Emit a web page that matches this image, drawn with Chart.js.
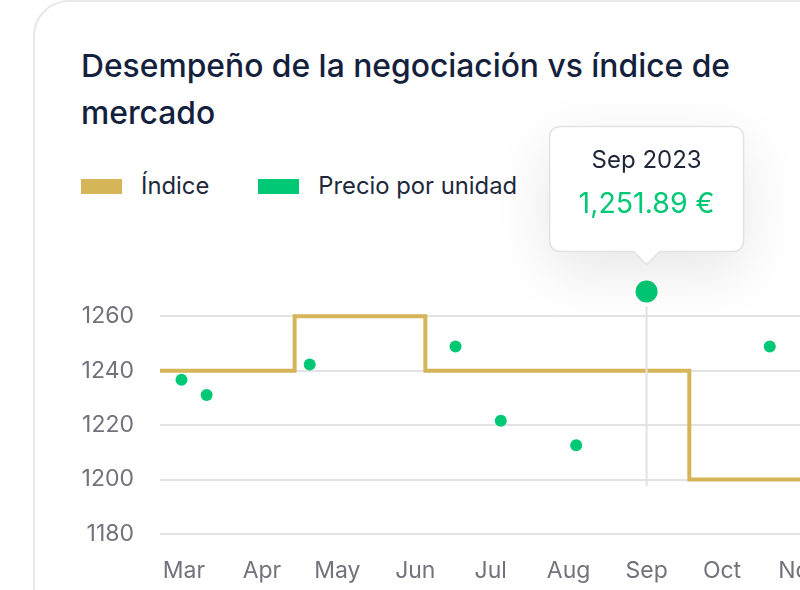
<!DOCTYPE html>
<html>
<head>
<meta charset="utf-8">
<script src="https://cdn.jsdelivr.net/npm/chart.js@4.4.1/dist/chart.umd.min.js"></script>
<style>
    html, body {
        margin: 0;
        width: 800px;
        height: 590px;
        overflow: hidden;
        background: #fff;
        font-family: Inter, "Noto Sans", sans-serif;
    }
    .card {
        position: absolute;
        left: 33px;
        top: 0;
        width: 1000px;
        height: 800px;
        border: 2px solid #e8e8eb;
        border-radius: 36px;
        box-sizing: border-box;
    }
    .chart-title {
        position: absolute;
        left: 81px;
        top: 42px;
        max-width: 700px;
        margin: 0;
        font-size: 31.8px;
        font-weight: 500;
        line-height: 47px;
        color: #14213d;
    }
    .chart-legend {
        position: absolute;
        left: 81px;
        top: 171px;
        display: flex;
        gap: 49px;
        font-size: 23.8px;
        line-height: 30px;
        color: #1e293b;
    }
    .chart-legend span {
        display: flex;
        align-items: center;
    }
    .chart-legend i {
        display: inline-block;
        width: 41px;
        height: 15px;
        margin-right: 19px;
    }
    .chart-box {
        position: absolute;
        left: 60px;
        top: 60px;
        width: 900px;
        height: 530px;
    }
</style>
</head>
<body>
<div class="card"></div>
<h2 class="chart-title">Desempeño de la negociación vs índice de mercado</h2>
<div class="chart-legend" id="legend"></div>
<div class="chart-box"><canvas id="stepChart"></canvas></div>

<script>
// Data
const monthLabels = ['Mar', 'Apr', 'May', 'Jun', 'Jul', 'Aug', 'Sep', 'Oct', 'Nov', 'Dec'];
const monthStarts = ['2023-03-01', '2023-04-01', '2023-05-01', '2023-06-01', '2023-07-01', '2023-08-01', '2023-09-01', '2023-10-01', '2023-11-01', '2023-12-01'];

const indexDates = ['2023-02-01', '2023-04-14', '2023-06-05', '2023-09-18', '2023-12-31'];
const indexValues = [1240, 1260, 1240, 1200, 1200];

const priceDates = ['2023-02-28', '2023-03-10', '2023-04-20', '2023-06-17', '2023-07-05', '2023-08-04', '2023-09-01', '2023-10-20'];
const priceValues = [1236.7, 1231.1, 1242.3, 1248.9, 1221.6, 1212.6, 1269.1, 1248.9];

const yTicks = [1180, 1200, 1220, 1240, 1260];
const yMin = 1180, yMax = 1272;
const xStart = '2023-02-20'; // left edge of the plot

// highlighted point + tooltip
const selectedIndex = 6;
const selectedPrice = 1251.89;

const gold = '#d5b558';
const green = '#00c875';

// days since 1 Mar 2023
const day0 = Date.parse('2023-03-01');
const toDay = d => (Date.parse(d) - day0) / 86400000;

const indexPoints = indexDates.map((d, i) => ({ x: toDay(d), y: indexValues[i] }));
const pricePoints = priceDates.map((d, i) => ({ x: toDay(d), y: priceValues[i] }));
const tickDays = monthStarts.map(toDay);

const xMin = toDay(xStart) - 0.55;
const xMax = xMin + 800 / 2.514;

// vertical guide under the hovered point + soft shadow behind the tooltip
const guideLine = {
    id: 'guideLine',
    afterDatasetsDraw(chart) {
        const active = chart.getActiveElements();
        if (!active.length) return;
        const pt = active[0].element;
        const ctx = chart.ctx;
        ctx.save();
        ctx.strokeStyle = '#e2e2e4';
        ctx.lineWidth = 2;
        ctx.beginPath();
        ctx.moveTo(pt.x, pt.y + 15);
        ctx.lineTo(pt.x, chart.scales.y.getPixelForValue(1197.8));
        ctx.stroke();
        ctx.restore();
    },
    beforeTooltipDraw(chart, args) {
        const tt = args.tooltip;
        const ctx = chart.ctx;
        ctx.save();
        ctx.shadowColor = 'rgba(0,0,0,0.1)';
        ctx.shadowBlur = 60;
        ctx.shadowOffsetY = 18;
        ctx.fillStyle = '#fff';
        ctx.beginPath();
        ctx.roundRect(tt.x, tt.y, tt.width, tt.height, 12);
        ctx.fill();
        ctx.restore();
    }
};

const ctx = document.getElementById('stepChart');

let chart = new Chart(ctx, {
    type: 'line',
    data: {
        datasets: [{
            label: 'Índice',
            data: indexPoints,
            stepped: true,
            borderColor: gold,
            backgroundColor: gold,
            borderWidth: 4,
            pointRadius: 0,
            pointHoverRadius: 0,
            fill: false
        }, {
            label: 'Precio por unidad',
            data: pricePoints,
            showLine: false,
            clip: false,
            borderColor: green,
            backgroundColor: green,
            pointRadius: 6,
            pointBorderWidth: 0,
            pointHoverRadius: 11,
            pointHoverBorderWidth: 0,
            pointHoverBackgroundColor: green
        }]
    },
    plugins: [guideLine],
    options: {
        responsive: true,
        maintainAspectRatio: false,
        animation: false,
        events: [],
        layout: {
            autoPadding: false,
            padding: { top: 223.6, bottom: 6, left: 0, right: 0 }
        },
        scales: {
            x: {
                type: 'linear',
                min: xMin,
                max: xMax,
                border: { display: false },
                grid: { display: false, drawTicks: false },
                afterBuildTicks: scale => {
                    scale.ticks = tickDays.map(v => ({ value: v }));
                },
                afterFit: scale => { scale.height = 50; },
                ticks: {
                    autoSkip: false,
                    maxRotation: 0,
                    padding: 23,
                    color: '#72727c',
                    font: { family: 'Inter', size: 23 },
                    callback: function (value) {
                        return monthLabels[tickDays.indexOf(value)];
                    }
                }
            },
            y: {
                min: yMin,
                max: yMax,
                border: { display: false },
                grid: { color: '#e3e3e5', lineWidth: 2, drawTicks: false },
                afterBuildTicks: scale => {
                    scale.ticks = yTicks.map(v => ({ value: v }));
                },
                afterFit: scale => { scale.width = 100; },
                ticks: {
                    padding: 26,
                    color: '#72727c',
                    font: { family: 'Inter', size: 23 },
                    callback: value => String(value)
                }
            }
        },
        plugins: {
            legend: { display: false },
            tooltip: {
                xAlign: 'center',
                yAlign: 'bottom',
                backgroundColor: '#fff',
                borderColor: '#e2e2e5',
                borderWidth: 1.5,
                cornerRadius: 12,
                caretSize: 13,
                caretPadding: 27,
                padding: { top: 19.6, bottom: 30, left: 29, right: 29 },
                displayColors: false,
                titleAlign: 'center',
                bodyAlign: 'center',
                titleColor: '#1e2638',
                titleFont: { family: 'Inter', size: 24, weight: 400 },
                titleMarginBottom: 12.5,
                bodyColor: green,
                bodyFont: { family: 'Inter', size: 28.5, weight: 400 },
                callbacks: {
                    title: items => {
                        const d = new Date(priceDates[items[0].dataIndex]);
                        return d.toLocaleString('en-US', { month: 'short', timeZone: 'UTC' }) + ' ' + d.getUTCFullYear();
                    },
                    label: () => selectedPrice.toLocaleString('en-US', { minimumFractionDigits: 2 }) + ' €'
                }
            }
        }
    }
});

// legend
const legend = document.getElementById('legend');
chart.data.datasets.forEach(ds => {
    const item = document.createElement('span');
    item.innerHTML = '<i style="background:' + ds.borderColor + '"></i>' + ds.label;
    legend.appendChild(item);
});

// show the hovered state
const sel = [{ datasetIndex: 1, index: selectedIndex }];
const meta = chart.getDatasetMeta(1).data[selectedIndex];
chart.setActiveElements(sel);
chart.tooltip.setActiveElements(sel, { x: meta.x, y: meta.y });
chart.update();
</script>
</body>
</html>
